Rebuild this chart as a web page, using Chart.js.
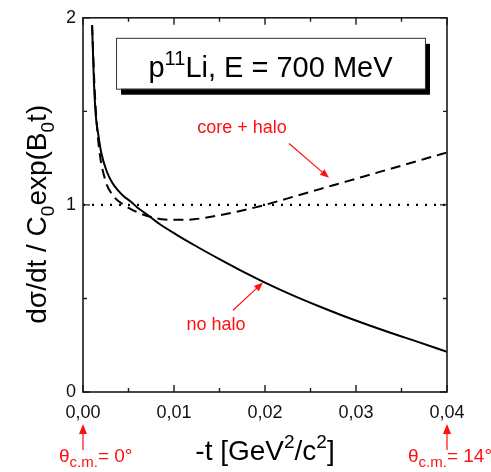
<!DOCTYPE html>
<html>
<head>
<meta charset="utf-8">
<script src="https://cdn.jsdelivr.net/npm/chart.js@4.4.0/dist/chart.umd.min.js"></script>
<style>
  html, body { margin: 0; padding: 0; background: #fff; }
  #wrap { width: 491px; height: 472px; }
</style>
</head>
<body>
<div id="wrap"><canvas id="myChart"></canvas></div>
<script>
// -t values and normalised cross sections
const noHaloT = [0.001, 0.0012, 0.0014, 0.0017, 0.002, 0.0026, 0.0032, 0.0038, 0.0045, 0.0052, 0.006, 0.007, 0.0085, 0.0103, 0.0123, 0.015, 0.0172, 0.02, 0.023, 0.026, 0.0293, 0.0337, 0.0368, 0.04];
const noHaloY = [1.96, 1.66, 1.48, 1.37, 1.28, 1.18, 1.12, 1.08, 1.045, 1.02, 0.985, 0.95, 0.895, 0.84, 0.783, 0.71, 0.653, 0.585, 0.518, 0.457, 0.394, 0.318, 0.268, 0.215];

const coreHaloT = [0.001, 0.0013, 0.0017, 0.0024, 0.0033, 0.0045, 0.006, 0.0075, 0.009, 0.011, 0.013, 0.015, 0.0175, 0.02, 0.0225, 0.025, 0.0275, 0.03, 0.0325, 0.035, 0.0375, 0.04];
const coreHaloY = [1.96, 1.6, 1.33, 1.14, 1.05, 1.0, 0.96, 0.935, 0.922, 0.92, 0.928, 0.945, 0.97, 1.0, 1.035, 1.07, 1.105, 1.14, 1.175, 1.21, 1.245, 1.28];

const refLineT = [0, 0.04];
const refLineY = [1, 1];

const xTickLabels = ['0,00', '0,01', '0,02', '0,03', '0,04'];
const yTickLabels = ['0', '1', '2'];

const FONT = "'Liberation Sans', Arial, Helvetica, sans-serif";
const RED = '#ff1010';

function toPoints(xs, ys) {
  return xs.map((x, i) => ({ x: x, y: ys[i] }));
}

// text with sub/superscripts: parts = [[text, 'n'|'sub'|'sup'], ...]
function richWidth(ctx, parts, size, small) {
  let w = 0;
  parts.forEach(p => {
    ctx.font = (p[1] === 'n' ? size : small) + 'px ' + FONT;
    w += ctx.measureText(p[0]).width;
  });
  return w;
}
function drawRich(ctx, parts, x, y, size, small, align, color) {
  const w = richWidth(ctx, parts, size, small);
  let cx = align === 'center' ? x - w / 2 : x;
  ctx.fillStyle = color;
  ctx.textBaseline = 'alphabetic';
  ctx.textAlign = 'left';
  parts.forEach(p => {
    ctx.font = (p[1] === 'n' ? size : small) + 'px ' + FONT;
    let dy = 0;
    if (p[1] === 'sub') dy = size * 0.28;
    if (p[1] === 'sup') dy = -size * 0.42;
    ctx.fillText(p[0], cx, y + dy);
    cx += ctx.measureText(p[0]).width;
  });
}

function arrow(ctx, x1, y1, x2, y2, color, head) {
  const a = Math.atan2(y2 - y1, x2 - x1);
  ctx.strokeStyle = color;
  ctx.fillStyle = color;
  ctx.lineWidth = 1.2;
  ctx.beginPath();
  ctx.moveTo(x1, y1);
  ctx.lineTo(x2 - Math.cos(a) * head * 0.8, y2 - Math.sin(a) * head * 0.8);
  ctx.stroke();
  ctx.beginPath();
  ctx.moveTo(x2, y2);
  ctx.lineTo(x2 - head * Math.cos(a) + head * 0.4 * Math.sin(a), y2 - head * Math.sin(a) - head * 0.4 * Math.cos(a));
  ctx.lineTo(x2 - head * Math.cos(a) - head * 0.4 * Math.sin(a), y2 - head * Math.sin(a) + head * 0.4 * Math.cos(a));
  ctx.closePath();
  ctx.fill();
}

// frame, inner ticks, title box, labels
const decorations = {
  id: 'decorations',
  afterDatasetsDraw(chart) {
    const ctx = chart.ctx;
    const xs = chart.scales.x, ys = chart.scales.y;
    const a = chart.chartArea;
    const px = v => xs.getPixelForValue(v);
    const py = v => ys.getPixelForValue(v);
    ctx.save();

    // frame
    ctx.strokeStyle = '#1a1a1a';
    ctx.lineWidth = 1.6;
    ctx.strokeRect(a.left, a.top, a.right - a.left, a.bottom - a.top);

    // ticks pointing inward
    ctx.lineWidth = 1.4;
    ctx.beginPath();
    for (let i = 0; i <= 8; i++) {
      const x = px(i * 0.005);
      const len = i % 2 === 0 ? 7 : 4;
      ctx.moveTo(x, a.bottom); ctx.lineTo(x, a.bottom - len);
      ctx.moveTo(x, a.top); ctx.lineTo(x, a.top + len);
    }
    for (let i = 0; i <= 4; i++) {
      const y = py(i * 0.5);
      const len = i % 2 === 0 ? 7 : 4;
      ctx.moveTo(a.left, y); ctx.lineTo(a.left + len, y);
      ctx.moveTo(a.right, y); ctx.lineTo(a.right - len, y);
    }
    ctx.stroke();

    // title box with shadow
    const bx1 = px(0.00363), bx2 = px(0.03758);
    const by1 = py(1.893), by2 = py(1.621);
    ctx.fillStyle = '#000';
    ctx.fillRect(bx1 + 5, by1 + 6, bx2 - bx1, by2 - by1);
    ctx.fillStyle = '#fff';
    ctx.fillRect(bx1, by1, bx2 - bx1, by2 - by1);
    ctx.strokeStyle = '#333';
    ctx.lineWidth = 1;
    ctx.strokeRect(bx1 + 0.5, by1 + 0.5, bx2 - bx1, by2 - by1);
    drawRich(ctx, [['p', 'n'], ['11', 'sup'], ['Li, E = 700 MeV', 'n']],
      (bx1 + bx2) / 2, by1 + 39, 29, 20, 'center', '#000');

    // curve annotations
    ctx.font = '18px ' + FONT;
    ctx.fillStyle = RED;
    ctx.textAlign = 'center';
    ctx.textBaseline = 'middle';
    ctx.fillText('core + halo', px(0.01747), py(1.41));
    ctx.fillText('no halo', px(0.01462), py(0.357));
    arrow(ctx, px(0.02264), py(1.328), px(0.02703), py(1.145), RED, 9);
    arrow(ctx, px(0.01648), py(0.437), px(0.01978), py(0.585), RED, 9);

    // scattering angle markers under the axis
    const x0 = px(0), x4 = px(0.04);
    arrow(ctx, x0, a.bottom + 58, x0, a.bottom + 32, RED, 10);
    arrow(ctx, x4, a.bottom + 58, x4, a.bottom + 32, RED, 10);
    drawRich(ctx, [['\u03b8', 'n'], ['c.m.', 'sub'], ['= 0\u00b0', 'n']], x0 - 24, a.bottom + 70, 19, 15, 'left', RED);
    drawRich(ctx, [['\u03b8', 'n'], ['c.m.', 'sub'], ['= 14\u00b0', 'n']], x4 - 39, a.bottom + 70, 19, 15, 'left', RED);

    // axis titles
    drawRich(ctx, [['-t [GeV', 'n'], ['2', 'sup'], ['/c', 'n'], ['2', 'sup'], [']', 'n']],
      (a.left + a.right) / 2, a.bottom + 68, 28, 19, 'center', '#000');

    ctx.translate(46, py(0.95));
    ctx.rotate(-Math.PI / 2);
    drawRich(ctx, [['d\u03c3/dt / C', 'n'], ['0', 'sub'], ['exp(B', 'n'], ['0', 'sub'], ['t)', 'n']],
      0, 0, 28, 19, 'center', '#000');
    ctx.restore();
  }
};

const ctx = document.getElementById('myChart').getContext('2d');
const myChart = new Chart(ctx, {
  type: 'scatter',
  data: {
    datasets: [{
      label: 'no halo',
      data: toPoints(noHaloT, noHaloY),
      showLine: true,
      borderColor: '#000',
      borderWidth: 2,
      pointRadius: 0,
      cubicInterpolationMode: 'monotone'
    }, {
      label: 'core + halo',
      data: toPoints(coreHaloT, coreHaloY),
      showLine: true,
      borderColor: '#000',
      borderWidth: 2,
      borderDash: [10, 6],
      pointRadius: 0,
      cubicInterpolationMode: 'monotone'
    }, {
      label: 'reference',
      data: toPoints(refLineT, refLineY),
      showLine: true,
      borderColor: '#000',
      borderWidth: 2.2,
      borderDash: [2, 7],
      pointRadius: 0
    }]
  },
  options: {
    responsive: true,
    maintainAspectRatio: false,
    animation: false,
    layout: { padding: { top: 17, right: 44, left: 0, bottom: 0 } },
    plugins: { legend: { display: false }, tooltip: { enabled: false } },
    scales: {
      x: {
        type: 'linear',
        min: 0,
        max: 0.04,
        grid: { display: false, drawTicks: false },
        border: { display: false },
        ticks: {
          stepSize: 0.01,
          padding: 10,
          color: '#111',
          font: { family: FONT, size: 18 },
          callback: v => xTickLabels[Math.round(v / 0.01)]
        },
        afterFit: s => { s.height = 80; }
      },
      y: {
        type: 'linear',
        min: 0,
        max: 2,
        grid: { display: false, drawTicks: false },
        border: { display: false },
        ticks: {
          stepSize: 1,
          padding: 7,
          color: '#111',
          font: { family: FONT, size: 18 },
          callback: v => yTickLabels[Math.round(v)]
        },
        afterFit: s => { s.width = 83; }
      }
    }
  },
  plugins: [decorations]
});
</script>
</body>
</html>
